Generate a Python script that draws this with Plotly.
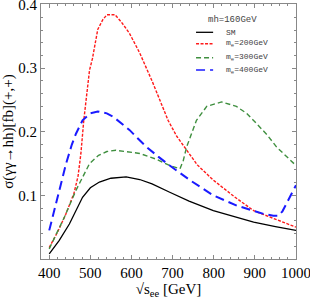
import plotly.graph_objects as go

x_sm = [400, 424, 449, 465, 481, 500, 522, 550, 587, 620, 650, 693, 740, 799, 850, 897, 950, 1000]
y_sm = [0.008, 0.029, 0.055, 0.075, 0.097, 0.112, 0.121, 0.127, 0.129, 0.125, 0.118, 0.105, 0.091, 0.076, 0.066, 0.058, 0.051, 0.045]

x_200 = [400, 420, 440, 460, 470, 477, 484, 490, 498, 505, 518, 530, 540, 560, 575, 595, 620, 650, 689, 710, 734, 760, 799, 850, 897, 950, 1000]
y_200 = [0.018, 0.042, 0.070, 0.103, 0.130, 0.166, 0.218, 0.255, 0.297, 0.315, 0.361, 0.376, 0.384, 0.384, 0.373, 0.355, 0.324, 0.280, 0.218, 0.193, 0.171, 0.148, 0.124, 0.098, 0.076, 0.062, 0.050]

x_300 = [400, 420, 437, 465, 480, 498, 520, 540, 562, 590, 620, 660, 693, 718, 726, 734, 758, 783, 819, 855, 880, 904, 930, 953, 980, 1000]
y_300 = [0.016, 0.042, 0.066, 0.108, 0.128, 0.150, 0.163, 0.169, 0.171, 0.169, 0.166, 0.157, 0.147, 0.142, 0.155, 0.176, 0.218, 0.240, 0.247, 0.240, 0.229, 0.213, 0.195, 0.176, 0.160, 0.147]

x_400 = [400, 416, 430, 441, 455, 465, 481, 500, 518, 540, 555, 575, 595, 615, 637, 665, 693, 742, 799, 856, 921, 945, 957, 967, 977, 990, 1000]
y_400 = [0.045, 0.087, 0.122, 0.150, 0.180, 0.197, 0.218, 0.229, 0.232, 0.229, 0.224, 0.213, 0.203, 0.190, 0.176, 0.161, 0.147, 0.124, 0.100, 0.084, 0.071, 0.068, 0.068, 0.075, 0.087, 0.102, 0.116]

x_ticks = [400, 500, 600, 700, 800, 900, 1000]
y_ticks = [0.1, 0.2, 0.3, 0.4]
y_tick_text = ["0.1", "0.2", "0.3", "0.4"]

names = ["SM", "m<sub>e</sub>=200GeV", "m<sub>e</sub>=300GeV", "m<sub>e</sub>=400GeV"]
legend_title = "mh=160GeV"

styles = [
    dict(color="black", width=1.3, dash="solid"),
    dict(color="#ff1a1a", width=1.4, dash="3px,1.5px"),
    dict(color="#3f8f3f", width=1.4, dash="5px,3px"),
    dict(color="#1a1aff", width=2, dash="9px,5px"),
]
series = [(x_sm, y_sm), (x_200, y_200), (x_300, y_300), (x_400, y_400)]

fig = go.Figure()
for (xs, ys), nm, st in zip(series, names, styles):
    fig.add_trace(go.Scatter(x=xs, y=ys, mode="lines", name=nm, line=st, showlegend=False))

# manual legend (paper coordinates)
leg_y = [0.889, 0.844, 0.789, 0.741]
for nm, st, yy in zip(names, styles, leg_y):
    fig.add_shape(type="line", xref="paper", yref="paper", x0=0.608, x1=0.675, y0=yy, y1=yy,
                  line=dict(color=st["color"], width=min(st["width"], 1.5), dash=st["dash"]))
    fig.add_annotation(xref="paper", yref="paper", x=0.718, y=yy, text=nm, showarrow=False,
                       xanchor="left", yanchor="middle",
                       font=dict(family="Liberation Mono", size=8, color="#444444"))
fig.add_annotation(xref="paper", yref="paper", x=0.751, y=0.937, text=legend_title, showarrow=False,
                   xanchor="center", yanchor="middle",
                   font=dict(family="Liberation Mono", size=9, color="#444444"))

axis_common = dict(showline=True, linecolor="#888888", linewidth=1, mirror="ticks",
                   ticks="inside", ticklen=4, tickcolor="#888888", showgrid=False,
                   zeroline=False, ticklabeloverflow="allow",
                   tickfont=dict(family="Liberation Serif", size=15, color="black"))

fig.update_xaxes(range=[380, 1000], tickvals=x_ticks,
                 minor=dict(ticks="inside", ticklen=2, dtick=20, tickcolor="#888888"),
                 title=dict(text="√s<sub>ee</sub> [GeV]", standoff=2,
                            font=dict(family="Liberation Serif", size=15, color="black")),
                 **axis_common)
fig.update_yaxes(range=[0, 0.401], tickvals=y_ticks, ticktext=y_tick_text,
                 minor=dict(ticks="inside", ticklen=2, dtick=0.02, tickcolor="#888888"),
                 title=dict(text="σ(γγ→hh)[fb](+,+)", standoff=4,
                            font=dict(family="Liberation Serif", size=15, color="black")),
                 **axis_common)

fig.update_layout(
    width=310, height=299,
    margin=dict(l=41, r=14, t=4, b=40, autoexpand=False),
    paper_bgcolor="white", plot_bgcolor="white",
    showlegend=False,
)

fig.write_html("out.html", config={"displayModeBar": False},
               post_script="document.body.style.margin='0';document.body.style.overflow='hidden';")
